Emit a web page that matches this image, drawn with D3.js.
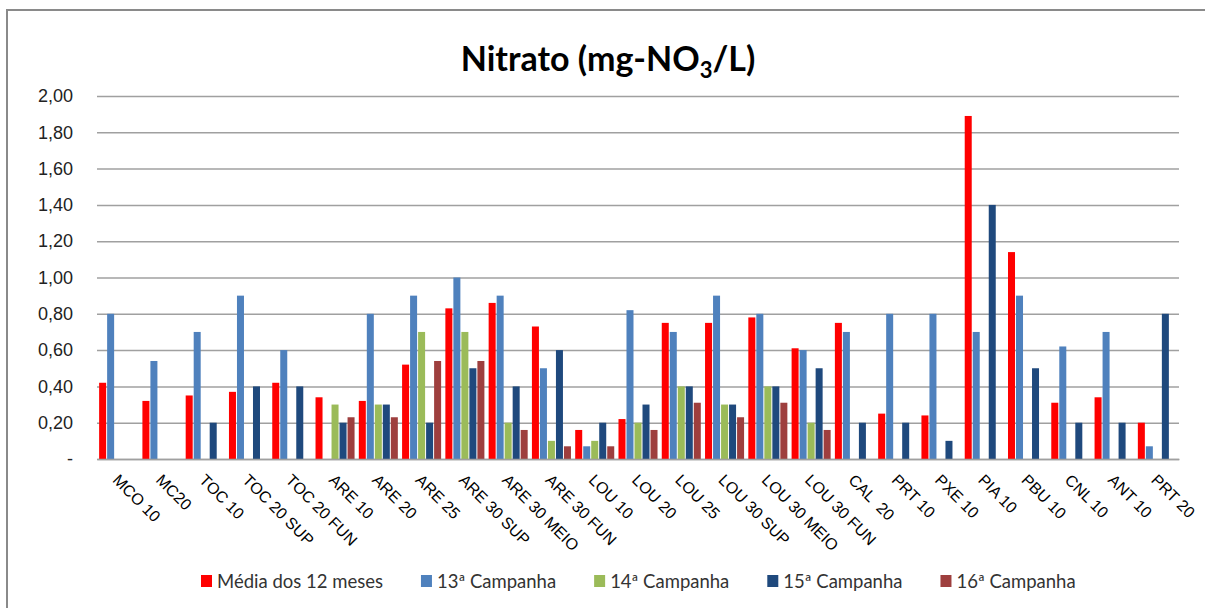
<!DOCTYPE html>
<html>
<head>
<meta charset="utf-8">
<script src="https://cdn.jsdelivr.net/npm/d3@7"></script>
<style>
  body { margin: 0; background: #fff; }
  svg { display: block; font-family: Lato, "Open Sans", sans-serif; }
  svg text { white-space: pre; }
</style>
</head>
<body>
<div id="grafico_nitrato"></div>
<script>
// categorias e valores
var pontos = ["MCO 10", "MC20", "TOC 10", "TOC 20 SUP", "TOC 20 FUN", "ARE 10", "ARE 20", "ARE 25",
  "ARE 30 SUP", "ARE 30 MEIO", "ARE 30 FUN", "LOU 10", "LOU 20", "LOU 25", "LOU 30 SUP",
  "LOU 30 MEIO", "LOU 30 FUN", "CAL  20", "PRT 10", "PXE 10", "PIA 10", "PBU 10", "CNL 10", "ANT 10", "PRT 20"];

var media12 = [0.42, 0.32, 0.35, 0.37, 0.42, 0.34, 0.32, 0.52, 0.83, 0.86, 0.73, 0.16, 0.22, 0.75, 0.75,
  0.78, 0.61, 0.75, 0.25, 0.24, 1.89, 1.14, 0.31, 0.34, 0.20];
var camp13 = [0.80, 0.54, 0.70, 0.90, 0.60, null, 0.80, 0.90, 1.00, 0.90, 0.50, 0.07, 0.82, 0.70, 0.90,
  0.80, 0.60, 0.70, 0.80, 0.80, 0.70, 0.90, 0.62, 0.70, 0.07];
var camp14 = [null, null, null, null, null, 0.30, 0.30, 0.70, 0.70, 0.20, 0.10, 0.10, 0.20, 0.40, 0.30,
  0.40, 0.20, null, null, null, null, null, null, null, null];
var camp15 = [null, null, 0.20, 0.40, 0.40, 0.20, 0.30, 0.20, 0.50, 0.40, 0.60, 0.20, 0.30, 0.40, 0.30,
  0.40, 0.50, 0.20, 0.20, 0.10, 1.40, 0.50, 0.20, 0.20, 0.80];
var camp16 = [null, null, null, null, null, 0.23, 0.23, 0.54, 0.54, 0.16, 0.07, 0.07, 0.16, 0.31, 0.23,
  0.31, 0.16, null, null, null, null, null, null, null, null];

var nomesSeries = ["Média dos 12 meses", "13ª Campanha", "14ª Campanha", "15ª Campanha", "16ª Campanha"];
var cores = ["#ff0000", "#4f81bd", "#9bbb59", "#1f497d", "#9e3f3e"];
var yTicks = [0, 0.2, 0.4, 0.6, 0.8, 1.0, 1.2, 1.4, 1.6, 1.8, 2.0];

var w_full = 1205,
    h_full = 608;

var margin = { top: 96, right: 26, bottom: 149, left: 97 };
var w = w_full - margin.left - margin.right,
    h = h_full - margin.top - margin.bottom;

var series = [media12, camp13, camp14, camp15, camp16];

var svg = d3.select("#grafico_nitrato")
  .append("svg")
  .attr("width", w_full)
  .attr("height", h_full);

// moldura do grafico
svg.append("rect")
  .attr("x", 7)
  .attr("y", 10)
  .attr("width", w_full + 20)
  .attr("height", h_full + 20)
  .attr("fill", "none")
  .attr("stroke", "#8a8a8a")
  .attr("stroke-width", 2);

// titulo
var titulo = svg.append("text")
  .attr("x", 608)
  .attr("y", 71)
  .attr("text-anchor", "middle")
  .style("font-size", "34px")
  .style("font-weight", "bold")
  .attr("fill", "#000");
titulo.append("tspan").text("Nitrato (mg-NO");
titulo.append("tspan").text("3").style("font-size", "22px").attr("dy", 7);
titulo.append("tspan").text("/L)").attr("dy", -7);

var g = svg.append("g")
  .attr("transform", "translate(" + margin.left + "," + margin.top + ")");

var x0 = d3.scaleBand()
  .domain(pontos)
  .range([0, w])
  .paddingInner(0.075)
  .paddingOuter(0.0375);

var x1 = d3.scaleBand()
  .domain(d3.range(series.length))
  .range([0, x0.bandwidth()]);

var y = d3.scaleLinear()
  .domain([0, 2])
  .range([h, 0]);

// eixo y com linhas de grade
var yAxis = g.append("g")
  .call(d3.axisLeft(y)
    .tickValues(yTicks)
    .tickSize(-w)
    .tickPadding(24)
    .tickFormat(function(d) { return d === 0 ? "-" : d3.format(".2f")(d).replace(".", ","); }));
yAxis.select(".domain").remove();
yAxis.selectAll("line")
  .attr("stroke", "#a0a0a0")
  .attr("stroke-width", 1.5);
yAxis.selectAll("text")
  .style("font-size", "18px")
  .attr("fill", "#222");

// barras
pontos.forEach(function(p, i) {
  var grupo = g.append("g").attr("transform", "translate(" + x0(p) + ",0)");
  series.forEach(function(s, k) {
    if (s[i] == null) return;
    grupo.append("rect")
      .attr("x", x1(k) + 0.5)
      .attr("y", y(s[i]))
      .attr("width", x1.bandwidth() - 1)
      .attr("height", h - y(s[i]))
      .attr("fill", cores[k]);
  });
});

// eixo x
var xAxis = g.append("g")
  .attr("transform", "translate(0," + h + ")")
  .call(d3.axisBottom(x0).tickSize(0).tickPadding(0));
xAxis.select(".domain").attr("stroke", "#a0a0a0").attr("stroke-width", 1.5);
xAxis.selectAll("text")
  .style("font-size", "16px")
  .attr("fill", "#000")
  .style("text-anchor", "start")
  .attr("dy", "0")
  .attr("y", 0)
  .attr("transform", "translate(-7,22) rotate(45)");

// legenda
var legenda = svg.append("g").attr("transform", "translate(0,588)");
var lx = 201;
nomesSeries.forEach(function(nome, k) {
  legenda.append("rect")
    .attr("x", lx)
    .attr("y", -13)
    .attr("width", 11)
    .attr("height", 12)
    .attr("fill", cores[k]);
  var t = legenda.append("text")
    .attr("x", lx + 16)
    .attr("y", 0)
    .style("font-size", "18.5px")
    .attr("fill", "#333")
    .text(nome);
  lx = lx + 16 + t.node().getComputedTextLength() + 38;
});
</script>
</body>
</html>
